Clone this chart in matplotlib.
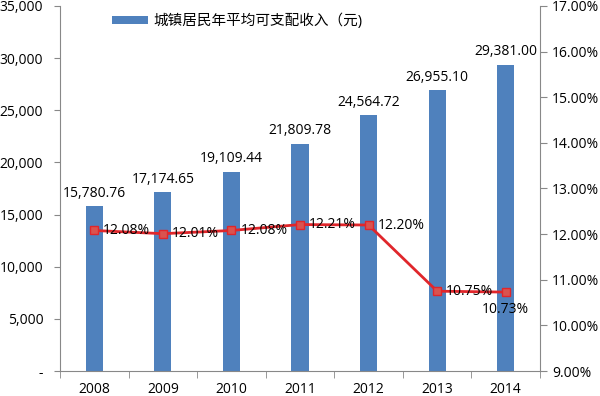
import matplotlib.pyplot as plt
from matplotlib.ticker import FuncFormatter, MultipleLocator
import numpy as np

plt.rcParams['font.family'] = ['Open Sans', 'Noto Sans CJK SC', 'DejaVu Sans']

years = ['2008', '2009', '2010', '2011', '2012', '2013', '2014']
income = [15780.76, 17174.65, 19109.44, 21809.78, 24564.72, 26955.10, 29381.00]
growth = [12.08, 12.01, 12.08, 12.21, 12.20, 10.75, 10.73]
legend_label = '城镇居民年平均可支配收入（元)'

fig = plt.figure(figsize=(6, 3.96), dpi=100)
ax = fig.add_axes([0.1, 0.063, 0.8, 0.922])
x = np.arange(len(years))

ax.bar(x, income, width=0.25, color='#4F81BD', label=legend_label, zorder=2)
ax.set_ylim(0, 35000)
ax.set_xlim(-0.5, len(years) - 0.5)
ax.yaxis.set_major_locator(MultipleLocator(5000))
ax.yaxis.set_major_formatter(FuncFormatter(lambda v, p: '-' if v == 0 else f'{int(v):,}'))
ax.set_xticks(x)
ax.set_xticklabels(years)
ax.set_xticks(np.arange(-0.5, len(years)), minor=True)
ax.tick_params(axis='x', which='major', length=0, pad=8, labelsize=10)
ax.tick_params(axis='x', which='minor', length=5, color='#888888', direction='out')
ax.tick_params(axis='y', length=4, color='#888888', direction='out', labelsize=10, pad=8)
for s in ['top', 'right']:
    ax.spines[s].set_visible(False)
ax.spines['left'].set_color('#888888')
ax.spines['bottom'].set_color('#888888')

for xi, v in zip(x, income):
    ax.text(xi, v + 500, f'{v:,.2f}', ha='center', va='bottom', fontsize=10)

ax2 = ax.twinx()
ax2.plot(x, growth, color='#E0262B', lw=2, marker='s', markersize=6,
         markerfacecolor='#D9534F', markeredgecolor='#E0262B', zorder=3)
ax2.set_ylim(9, 17)
ax2.yaxis.set_major_locator(MultipleLocator(1))
ax2.yaxis.set_major_formatter(FuncFormatter(lambda v, p: f'{v:.2f}%'))
ax2.tick_params(axis='y', length=5, direction='out', color='#888888', labelsize=10)
ax2.spines['top'].set_visible(False)
ax2.spines['left'].set_visible(False)
ax2.spines['bottom'].set_visible(False)
ax2.spines['right'].set_color('#888888')

for i, (xi, g) in enumerate(zip(x, growth)):
    if i == len(x) - 1:
        ax2.text(xi, g - 0.22, f'{g:.2f}%', ha='center', va='top', fontsize=10)
    else:
        ax2.text(xi + 0.13, g, f'{g:.2f}%', ha='left', va='center', fontsize=10)

ax.legend(loc='upper left', bbox_to_anchor=(0.08, 1.015), frameon=False, fontsize=10.5,
          handlelength=2.5, handleheight=0.5, handletextpad=0.4)

fig.savefig('out.png', dpi=100)
